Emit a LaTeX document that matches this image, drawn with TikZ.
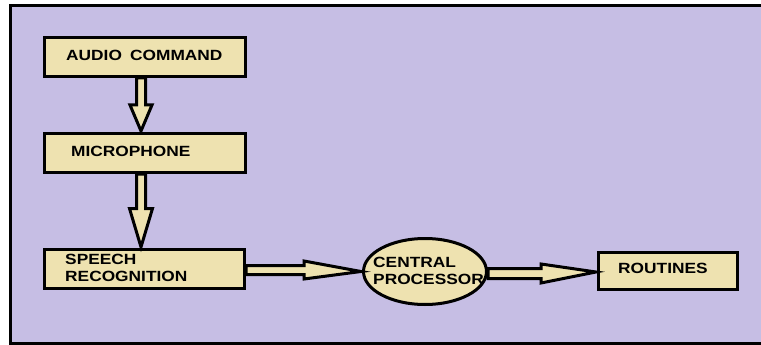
\documentclass[tikz,border=0pt]{standalone}
\usepackage{fontspec}
\newfontfamily\lbl{Liberation Sans}[FakeStretch=1.17]
\usetikzlibrary{calc,shapes.geometric}
\definecolor{lav}{RGB}{198,190,228}
\definecolor{khaki}{RGB}{238,226,176}
\tikzset{
  frameline/.style={line width=3pt,line cap=rect},
  box/.style={draw=black,fill=khaki,line width=3pt,rectangle,inner sep=0pt},
  oval/.style={draw=black,fill=khaki,line width=3pt,ellipse,inner sep=0pt},
  blk/.style={draw=black,fill=khaki,line width=3pt,line join=miter},
  txt/.style={anchor=base west,inner sep=0pt,font=\lbl\bfseries\fontsize{14.8pt}{17pt}\selectfont,text=black}
}
\newcommand\downblk[4]{%
  \draw[blk] let \p1=(#1), \p2=(#2) in
    (\x1-4.5pt,\y1) -- (\x1+4.5pt,\y1) -- (\x1+4.5pt,\y2+#3) -- (\x1+#4,\y2+#3)
    -- (\x1,\y2) -- (\x1-#4,\y2+#3) -- (\x1-4.5pt,\y2+#3) -- cycle;}
\newcommand\rightblk[5]{%
  \draw[blk] let \p1=(#1), \p2=(#2) in
    (\x1,\y1+#5) -- (\x2-#3,\y1+#5) -- (\x2-#3,\y1+#4) -- (\x2,\y2)
    -- (\x2-#3,\y1-#4) -- (\x2-#3,\y1-#5) -- (\x1,\y1-#5) -- cycle;}
\begin{document}
\begin{tikzpicture}[x=1pt,y=-1pt]
\useasboundingbox (0,0) rectangle (761,345);
% frame
\fill[lav] (10.5,5.5) rectangle (775,343.8);
\draw[frameline] (775,5.5) -- (10.5,5.5) -- (10.5,343.8) -- (775,343.8);
% boxes
\node[box,minimum width=201pt,minimum height=39pt] (ac) at (145,57) {};
\node[box,minimum width=201pt,minimum height=39pt] (mic) at (145,153) {};
\node[box,minimum width=200pt,minimum height=39pt] (sr) at (144.5,269) {};
\node[oval,minimum width=123pt,minimum height=66pt] (cp) at (425,271.5) {};
\node[box,minimum width=139pt,minimum height=37pt] (rt) at (668,271) {};
% block arrows
\coordinate (a1s) at ($(ac.south)+(-4,0)$);
\coordinate (a1e) at ($(mic.north)+(-4,-1)$);
\downblk{a1s}{a1e}{26pt}{11pt}
\coordinate (a2s) at ($(mic.south)+(-4,0)$);
\coordinate (a2e) at ($(sr.north)+(-3.5,-1)$);
\downblk{a2s}{a2e}{38.5pt}{11.5pt}
\coordinate (a3s) at ($(sr.east)+(0,1)$);
\coordinate (a3e) at ($(cp.west)+(-1,0)$);
\rightblk{a3s}{a3e}{57pt}{9pt}{4.5pt}
\coordinate (a4s) at ($(cp.east)+(0,2)$);
\coordinate (a4e) at ($(rt.west)+(-1,1)$);
\rightblk{a4s}{a4e}{55pt}{9.5pt}{5pt}
% texts
\node[txt] (t1) at (66,61) {AUDIO\hspace{0.55em}COMMAND};
\node[txt] (t2) at (71,157) {MICROPHONE};
\node[txt] (t3a) at (65,264) {SPEECH};
\node[txt] (t3b) at (65,281) {RECOGNITION};
\node[txt] (t4a) at (373,267) {CENTRAL};
\node[txt] (t4b) at (373,284) {PROCESSOR};
\node[txt] (t5) at (618,273) {ROUTINES};
\end{tikzpicture}
\end{document}
